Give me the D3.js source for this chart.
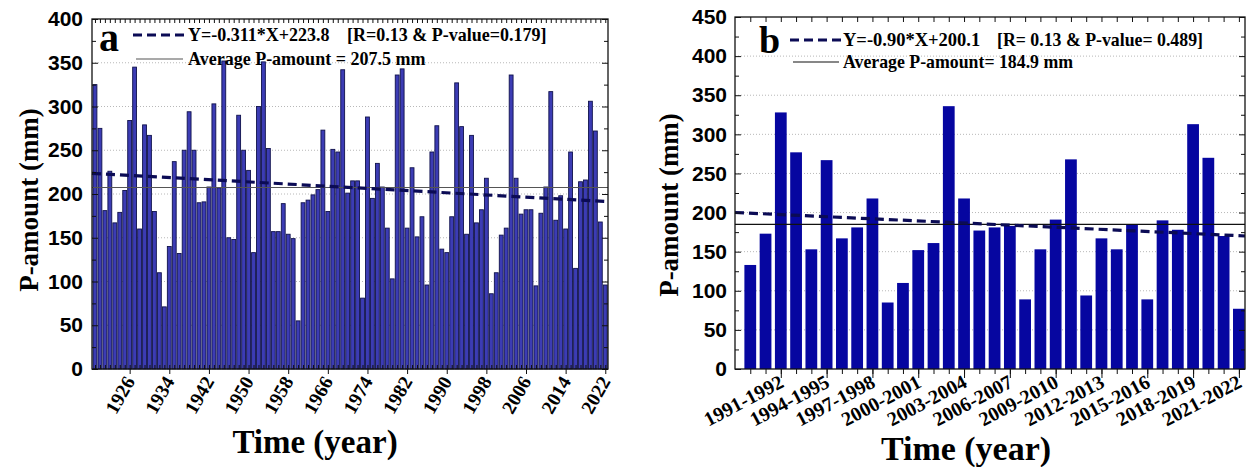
<!DOCTYPE html>
<html>
<head>
<meta charset="utf-8">
<script src="https://cdn.jsdelivr.net/npm/d3@7"></script>
<style>
  body { margin: 0; background: #fff; }
  svg { font-family: "Liberation Serif", "Times New Roman", serif; font-weight: bold; }
</style>
</head>
<body>
<svg id="chart" width="1246" height="467"></svg>
<script>
// ---- data ----
const yearsA = d3.range(1919, 2023);
const amountA = [
  325, 275, 181, 226, 167, 179, 204, 284, 345, 160,
  279, 267, 180, 110, 71, 140, 237, 132, 250, 294,
  250, 190, 191, 208, 303, 207, 352, 150, 148, 290,
  250, 227, 133, 300, 351, 252, 157, 157, 189, 154,
  149, 55, 190, 193, 199, 205, 273, 180, 251, 248,
  342, 201, 215, 215, 81, 288, 195, 235, 208, 161,
  103, 336, 343, 161, 230, 151, 174, 96, 248, 278,
  137, 133, 174, 327, 277, 154, 267, 167, 182, 218,
  86, 110, 153, 161, 336, 218, 177, 182, 182, 95,
  178, 208, 317, 170, 198, 160, 248, 115, 214, 216,
  306, 272, 168, 96
];
const tickYearsA = [1926, 1934, 1942, 1950, 1958, 1966, 1974, 1982, 1990, 1998, 2006, 2014, 2022];
const yTicksA = [0, 50, 100, 150, 200, 250, 300, 350, 400];
const trendA = [-0.311, 223.8];   // slope, intercept
const meanA = 207.5;

const seasonsB = [
  "1989-1990", "1990-1991", "1991-1992", "1992-1993", "1993-1994", "1994-1995",
  "1995-1996", "1996-1997", "1997-1998", "1998-1999", "1999-2000", "2000-2001",
  "2001-2002", "2002-2003", "2003-2004", "2004-2005", "2005-2006", "2006-2007",
  "2007-2008", "2008-2009", "2009-2010", "2010-2011", "2011-2012", "2012-2013",
  "2013-2014", "2014-2015", "2015-2016", "2016-2017", "2017-2018", "2018-2019",
  "2019-2020", "2020-2021", "2021-2022"
];
const amountB = [
  133, 173, 328, 277, 153, 267, 167, 181, 218, 85,
  110, 152, 161, 336, 218, 177, 181, 183, 89, 153,
  191, 268, 94, 167, 153, 185, 89, 190, 178, 313,
  270, 170, 77
];
const tickSeasonsB = ["1991-1992", "1994-1995", "1997-1998", "2000-2001", "2003-2004", "2006-2007",
  "2009-2010", "2012-2013", "2015-2016", "2018-2019", "2021-2022"];
const yTicksB = [0, 50, 100, 150, 200, 250, 300, 350, 400, 450];
const trendB = [-0.90, 200.1];
const meanB = 184.9;

const svg = d3.select("#chart");

function panel(cfg) {
  const g = svg.append("g");
  const n = cfg.values.length;
  const x = d3.scaleLinear().domain(cfg.xDomain).range([cfg.left, cfg.right]);
  const y = d3.scaleLinear().domain([0, cfg.yMax]).range([cfg.bottom, cfg.top]);
  const step = x(1) - x(0);
  const bw = step * cfg.barFrac;

  // dotted grid
  g.selectAll("line.grid").data(cfg.yTicks.filter(v => v > 0 && v < cfg.yMax)).join("line")
    .attr("x1", cfg.left).attr("x2", cfg.right)
    .attr("y1", d => y(d)).attr("y2", d => y(d))
    .attr("stroke", "#b8b8b8").attr("stroke-width", 1).attr("stroke-dasharray", "1,2");

  // bars
  g.selectAll("rect.bar").data(cfg.values).join("rect")
    .attr("x", (d, i) => x(i) - bw / 2)
    .attr("y", d => y(d))
    .attr("width", bw)
    .attr("height", d => y(0) - y(d))
    .attr("fill", cfg.barFill)
    .attr("stroke", cfg.barStroke)
    .attr("stroke-width", cfg.barStroke === "none" ? 0 : 0.9);

  // mean line
  g.append("line")
    .attr("x1", cfg.left).attr("x2", cfg.right)
    .attr("y1", y(cfg.mean)).attr("y2", y(cfg.mean))
    .attr("stroke", cfg.meanColor).attr("stroke-width", 1.1);

  // trend line, X counted from 1
  const t0 = cfg.xDomain[0], t1 = cfg.xDomain[1];
  g.append("line")
    .attr("x1", x(t0)).attr("y1", y(cfg.trend[0] * (t0 + 1) + cfg.trend[1]))
    .attr("x2", x(t1)).attr("y2", y(cfg.trend[0] * (t1 + 1) + cfg.trend[1]))
    .attr("stroke", "#0b0b55").attr("stroke-width", 3.2).attr("stroke-dasharray", "9,5");

  // frame
  g.append("rect")
    .attr("x", cfg.left).attr("y", cfg.top)
    .attr("width", cfg.right - cfg.left).attr("height", cfg.bottom - cfg.top)
    .attr("fill", "none").attr("stroke", "#111").attr("stroke-width", 1.3);

  const idx = d3.range(n);
  // top minor ticks (inward)
  g.append("g").attr("transform", `translate(0,${cfg.top})`)
    .call(d3.axisTop(x).tickValues(idx).tickSize(-cfg.topTick).tickFormat(""))
    .call(a => a.select(".domain").remove());
  // bottom ticks
  g.append("g").attr("transform", `translate(0,${cfg.bottom})`)
    .call(d3.axisBottom(x).tickValues(idx).tickSizeInner(cfg.botTickIn).tickSizeOuter(0).tickFormat(""))
    .call(a => a.select(".domain").remove());
  const major = cfg.tickLabels.map(t => cfg.cats.indexOf(t));
  g.append("g").attr("transform", `translate(0,${cfg.bottom})`)
    .call(d3.axisBottom(x).tickValues(major).tickSizeInner(cfg.majorTick).tickSizeOuter(0).tickFormat(""))
    .call(a => a.select(".domain").remove());
  // rotated x labels
  g.selectAll("text.xl").data(cfg.tickLabels).join("text")
    .attr("transform", d => `translate(${x(cfg.cats.indexOf(d)) + cfg.labDx},${cfg.bottom + cfg.labDy}) rotate(${cfg.labRot})`)
    .attr("text-anchor", "end")
    .attr("dy", "0.35em")
    .attr("font-size", cfg.labSize)
    .text(d => String(d));

  // y ticks: minor halfway, major on labels, both sides inward
  const minorY = d3.range(25, cfg.yMax, 50);
  [[cfg.left, d3.axisRight], [cfg.right, d3.axisLeft]].forEach(([px, ax]) => {
    g.append("g").attr("transform", `translate(${px},0)`)
      .call(ax(y).tickValues(cfg.yTicks).tickSize(6).tickFormat(""))
      .call(a => a.select(".domain").remove());
    g.append("g").attr("transform", `translate(${px},0)`)
      .call(ax(y).tickValues(minorY).tickSize(4).tickFormat(""))
      .call(a => a.select(".domain").remove());
  });
  g.selectAll(".tick line").attr("stroke", "#111").attr("stroke-width", 1);

  // y tick labels
  g.append("g").attr("transform", `translate(${cfg.left},0)`)
    .call(d3.axisLeft(y).tickValues(cfg.yTicks).tickSize(0).tickPadding(cfg.left - cfg.yLabRight))
    .call(a => a.select(".domain").remove())
    .call(a => a.selectAll("text").attr("font-size", 21).attr("font-family", null).attr("fill", "#000"));

  // axis titles
  g.append("text")
    .attr("transform", `translate(${cfg.yTitleX},${cfg.yTitleY}) rotate(-90)`)
    .attr("text-anchor", "middle").attr("font-size", 27)
    .text("P-amount (mm)");
  g.append("text")
    .attr("x", cfg.xTitleX).attr("y", cfg.xTitleY)
    .attr("text-anchor", "middle").attr("font-size", cfg.xTitleSize)
    .text("Time (year)");

  // legend
  const L = cfg.legend;
  g.append("text").attr("x", L.letterX).attr("y", L.letterY).attr("font-size", L.letterSize).text(L.letter);
  g.append("line").attr("x1", L.lineX0).attr("x2", L.lineX1).attr("y1", L.row1).attr("y2", L.row1)
    .attr("stroke", "#0b0b55").attr("stroke-width", 3.2).attr("stroke-dasharray", "9,5");
  g.append("text").attr("x", L.eqX).attr("y", L.row1 + 6).attr("font-size", L.eqSize).text(L.eq);
  g.append("text").attr("x", L.statX).attr("y", L.row1 + 6).attr("font-size", L.size).text(L.stat);
  g.append("line").attr("x1", L.lineX0 + 3).attr("x2", L.lineX1 - 3).attr("y1", L.row2).attr("y2", L.row2)
    .attr("stroke", cfg.meanColor).attr("stroke-width", 1.1);
  g.append("text").attr("x", L.eqX).attr("y", L.row2 + 6).attr("font-size", L.size).text(L.avg);
}

panel({
  values: amountA, cats: yearsA, tickLabels: tickYearsA,
  xDomain: [-0.6, 103.55], left: 92, right: 608, top: 19, bottom: 369,
  yMax: 400, yTicks: yTicksA, barFrac: 0.78,
  barFill: "#3c3cb4", barStroke: "#10124c",
  mean: meanA, meanColor: "#555", trend: trendA,
  topTick: 4, botTickIn: -4, majorTick: 5,
  labDx: 0, labDy: 9, labRot: -60, labSize: 19.5,
  yLabRight: 83, yTitleX: 38, yTitleY: 200, xTitleX: 315, xTitleY: 453, xTitleSize: 33,
  legend: {
    letter: "a", letterX: 99, letterY: 51, letterSize: 40,
    lineX0: 133, lineX1: 186, row1: 35, row2: 59,
    eqX: 188, statX: 347, size: 18, eqSize: 18,
    eq: "Y=-0.311*X+223.8", stat: "[R=0.13 & P-value=0.179]",
    avg: "Average P-amount = 207.5 mm"
  }
});

panel({
  values: amountB, cats: seasonsB, tickLabels: tickSeasonsB,
  xDomain: [-1, 32.4], left: 735, right: 1245, top: 17, bottom: 369,
  yMax: 450, yTicks: yTicksB, barFrac: 0.77,
  barFill: "#0606a0", barStroke: "none",
  mean: meanB, meanColor: "#111", trend: trendB,
  topTick: 5, botTickIn: 5, majorTick: 9,
  labDx: 1, labDy: 11, labRot: -28, labSize: 20,
  yLabRight: 727, yTitleX: 678, yTitleY: 205, xTitleX: 966, xTitleY: 460, xTitleSize: 34,
  legend: {
    letter: "b", letterX: 759, letterY: 53, letterSize: 38,
    lineX0: 790, lineX1: 842, row1: 40, row2: 62,
    eqX: 843, statX: 997, size: 17.8, eqSize: 18.5,
    eq: "Y=-0.90*X+200.1", stat: "[R= 0.13 & P-value= 0.489]",
    avg: "Average P-amount= 184.9 mm"
  }
});
</script>
</body>
</html>
